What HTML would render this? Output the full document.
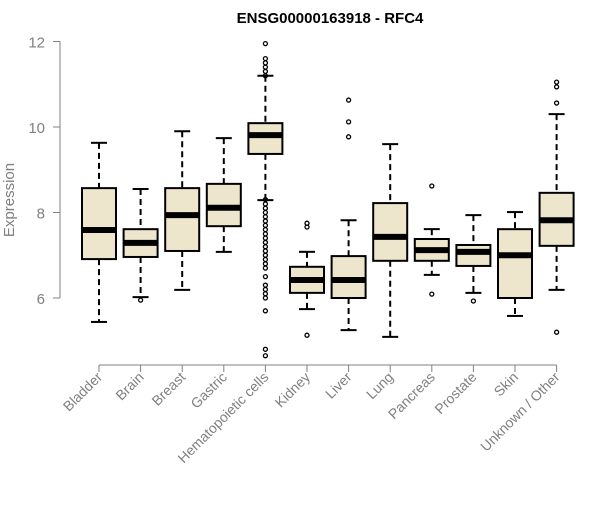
<!DOCTYPE html>
<html><head><meta charset="utf-8"><style>
body{margin:0;background:#fff}
text{font-family:"Liberation Sans",Arial,sans-serif}
</style></head><body>
<svg id="c" width="600" height="500" xmlns="http://www.w3.org/2000/svg">
<text x="330" y="23" text-anchor="middle" font-size="15" font-weight="bold">ENSG00000163918 - RFC4</text>
<text transform="translate(14,200) rotate(-90)" text-anchor="middle" font-size="15" fill="#808080">Expression</text>
<g id="plot"></g>
</svg>
<script>
const categories=["Bladder","Brain","Breast","Gastric","Hematopoietic cells","Kidney","Liver","Lung","Pancreas","Prostate","Skin","Unknown / Other"];
const whiskLow=[5.44,6.02,6.19,7.08,8.29,5.74,5.25,5.09,6.54,6.12,5.58,6.19];
const q1=[6.91,6.96,7.1,7.68,9.37,6.12,6.0,6.87,6.87,6.75,6.0,7.22];
const medians=[7.59,7.29,7.94,8.11,9.81,6.42,6.42,7.43,7.12,7.08,7.0,7.82];
const q3=[8.57,7.61,8.57,8.67,10.09,6.73,6.98,8.22,7.38,7.24,7.61,8.46];
const whiskHigh=[9.63,8.55,9.9,9.74,11.2,7.08,7.82,9.6,7.61,7.94,8.01,10.3];
const outliers=[[],[5.95],[],[],[11.95,11.6,11.5,11.4,11.3,11.2,8.3,8.2,8.1,8.0,7.9,7.8,7.7,7.6,7.5,7.4,7.3,7.2,7.1,7.0,6.9,6.8,6.7,6.5,6.3,6.2,6.1,6.0,5.7,4.8,4.65],[7.75,7.66,5.13],[10.63,10.12,9.77],[],[8.62,6.09],[5.93],[],[11.05,10.94,10.56,5.2]];
const yTicks=[6,8,10,12];
const y=v=>298-(v-6)*42.75;
const x=i=>99+i*41.6;
const NS="http://www.w3.org/2000/svg";
const g=document.getElementById('plot');
function mk(t,a){const e=document.createElementNS(NS,t);for(const k in a)e.setAttribute(k,a[k]);g.appendChild(e);return e;}
let e=mk('line',{x1:60,x2:60,y1:y(12),y2:y(6),stroke:'#808080'});


yTicks.forEach(t=>{
 let l=mk('line',{x1:53,x2:60,y1:y(t),y2:y(t),stroke:'#808080'});
 
 
 let tx=mk('text',{x:45,y:y(t)+6,'text-anchor':'end','font-size':15,fill:'#808080'});
 tx.textContent=t;
 
 
});
e=mk('line',{x1:x(0),x2:x(11),y1:365,y2:365,stroke:'#808080'});


categories.forEach((c,i)=>{
 const cx=x(i),w=17;
 let t=mk('line',{x1:cx,x2:cx,y1:365,y2:372,stroke:'#808080'});
 
 
 let lb=mk('text',{transform:`translate(${cx+4},${378}) rotate(-45)`,'text-anchor':'end','font-size':14,fill:'#808080'});
 lb.textContent=c;
 
 
 let w1=mk('line',{x1:cx,x2:cx,y1:y(whiskHigh[i]),y2:y(q3[i]),stroke:'#000','stroke-width':2,'stroke-dasharray':'6,4'});
 
 
 let w2=mk('line',{x1:cx,x2:cx,y1:y(q1[i]),y2:y(whiskLow[i]),stroke:'#000','stroke-width':2,'stroke-dasharray':'6,4'});
 
 
 let c1=mk('line',{x1:cx-8,x2:cx+8,y1:y(whiskHigh[i]),y2:y(whiskHigh[i]),stroke:'#000','stroke-width':2});
 
 
 let c2=mk('line',{x1:cx-8,x2:cx+8,y1:y(whiskLow[i]),y2:y(whiskLow[i]),stroke:'#000','stroke-width':2});
 
 
 let b=mk('rect',{x:cx-w,y:y(q3[i]),width:2*w,height:y(q1[i])-y(q3[i]),fill:'#ede6cc',stroke:'#000','stroke-width':2});
 
 
 let m=mk('line',{x1:cx-w,x2:cx+w,y1:y(medians[i]),y2:y(medians[i]),stroke:'#000','stroke-width':6});
 
 
 outliers[i].forEach(v=>{
  let o=mk('circle',{cx:cx,cy:y(v),r:2,fill:'none',stroke:'#000','stroke-width':1.3});
  
  
 });
});
</script>
</body></html>
